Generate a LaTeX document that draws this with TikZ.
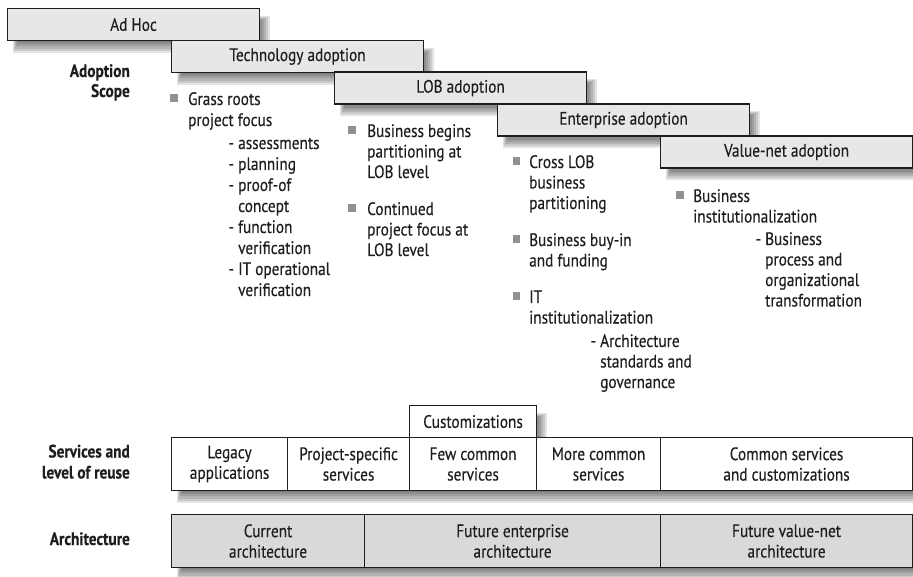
\documentclass[tikz,border=0pt]{standalone}
\usepackage{fontspec}
\setmainfont{PT Sans}[FakeStretch=0.85,FakeBold=0.3]
\newcommand\myfs{\fontsize{18}{20.5}\selectfont}
\definecolor{stepfill}{RGB}{231,231,233}
\definecolor{archfill}{RGB}{217,217,217}
\definecolor{bulgray}{RGB}{145,145,145}
\definecolor{ink}{RGB}{30,30,30}
\newcommand\sshadow[4]{%
  \foreach \k in {0,...,5}{%
    \fill[black,opacity=0.11] ({#1+6+\k},{#2+8+\k}) rectangle ({#3+11-2*\k},{#4+13-2.2*\k});}}
\begin{document}
\begin{tikzpicture}[x=1pt,y=-1pt,
  stepbox/.style={draw=ink, line width=1.1pt, fill=stepfill, minimum width=252pt, minimum height=32pt, inner sep=0pt, anchor=north west, font=\myfs, text=ink},
  txt/.style={anchor=base west, inner sep=0pt, font=\myfs, text=ink},
  labl/.style={anchor=base east, inner sep=0pt, font=\myfs\bfseries, text=ink},
  bul/.style={fill=bulgray, minimum size=7.5pt, inner sep=0pt, draw=none},
  cell/.style={draw=ink, line width=1.1pt, fill=white, minimum height=53pt, inner sep=0pt, anchor=north west, align=center, font=\myfs, text=ink},
  archcell/.style={cell, fill=archfill}]
\useasboundingbox (0,0) rectangle (913,577);
\fill[white] (0,0) rectangle (913,577);

% step boxes
\sshadow{7}{8}{259}{40}
\node[stepbox] (s1) at (7,8) {Ad Hoc};
\sshadow{171}{40}{423}{72}
\node[stepbox] (s2) at (171,40) {Technology adoption};
\sshadow{334}{71.5}{586}{103.5}
\node[stepbox] (s3) at (334,71.5) {LOB adoption};
\sshadow{497}{103.5}{749}{135.5}
\node[stepbox] (s4) at (497,103.5) {Enterprise adoption};
\sshadow{660}{135.5}{912}{167.5}
\node[stepbox] (s5) at (660,135.5) {Value-net adoption};

% labels
\node[labl] (la1) at (130,77) {Adoption};
\node[labl] (la2) at (130,97) {Scope};
\node[labl] (ls1) at (130,457.5) {Services and};
\node[labl] (ls2) at (130,478.5) {level of reuse};
\node[labl] (lar) at (130,545) {Architecture};

% technology adoption bullets
\node[bul] (bt1) at (174,98) {};
\foreach \x/\y/\t [count=\i] in {188/105/Grass roots, 188/126/project focus,
  238/149/{\llap{- }assessments}, 238/170/{\llap{- }planning}, 238/191/{\llap{- }proof-of},
  238/212/concept, 238/233/{\llap{- }function}, 238/254/verification,
  238/275/{\llap{- }IT operational}, 238/296/verification}
  \node[txt] (t\i) at (\x,\y) {\t};

% LOB bullets
\node[bul] (bl1) at (352,130) {};
\node[bul] (bl2) at (352,208) {};
\foreach \y/\t [count=\i] in {137/Business begins, 157.5/partitioning at, 178/LOB level,
  215/Continued, 235.5/project focus at, 256/LOB level}
  \node[txt] (l\i) at (367,\y) {\t};

% enterprise bullets
\node[bul] (be1) at (516.5,161) {};
\node[bul] (be2) at (516.5,239) {};
\node[bul] (be3) at (516.5,296) {};
\foreach \x/\y/\t [count=\i] in {529/168/Cross LOB, 529/188.5/business, 529/209/partitioning,
  529/246/Business buy-in, 529/266.5/and funding, 529/303/IT, 529/323.5/institutionalization,
  600/347/{\llap{- }Architecture}, 600/367.5/standards and, 600/388/governance}
  \node[txt] (e\i) at (\x,\y) {\t};

% value-net bullets
\node[bul] (bv1) at (680,195) {};
\foreach \x/\y/\t [count=\i] in {693/202/Business, 693/222.5/institutionalization,
  765/245/{\llap{- }Business}, 765/265.5/process and, 765/286/organizational,
  765/306.5/transformation}
  \node[txt] (v\i) at (\x,\y) {\t};

% services row
\sshadow{409}{405}{536}{437}
\node[cell, minimum height=32pt, minimum width=127pt] (cust) at (409,405) {Customizations};
\sshadow{171}{437}{912}{490}
\node[cell, minimum width=116pt] (c1) at (171,437) {Legacy\\applications};
\node[cell, minimum width=122pt] (c2) at (287,437) {Project-specific\\services};
\node[cell, minimum width=127pt] (c3) at (409,437) {Few common\\services};
\node[cell, minimum width=124pt] (c4) at (536,437) {More common\\services};
\node[cell, minimum width=252pt] (c5) at (660,437) {Common services\\and customizations};

% architecture row
\sshadow{171}{514}{912}{567}
\node[archcell, minimum width=193pt] (a1) at (171,514) {Current\\architecture};
\node[archcell, minimum width=296pt] (a2) at (364,514) {Future enterprise\\architecture};
\node[archcell, minimum width=252pt] (a3) at (660,514) {Future value-net\\architecture};
\end{tikzpicture}
\end{document}
